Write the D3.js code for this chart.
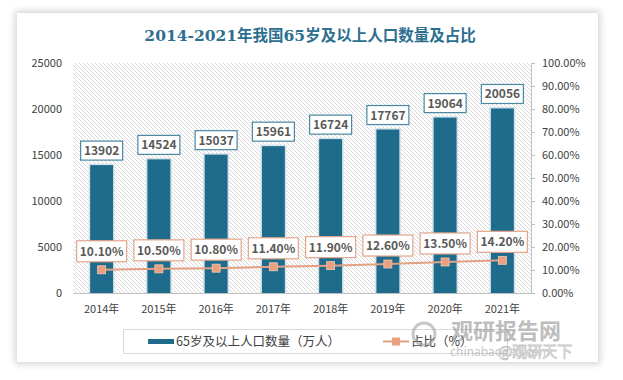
<!DOCTYPE html>
<html><head><meta charset="utf-8">
<script src="https://cdn.jsdelivr.net/npm/d3@7"></script>
<style>
body{margin:0;background:#fff;}
#card{position:absolute;left:17px;top:13px;width:581px;height:349px;background:#fff;box-shadow:0 0 7px 2px rgba(0,0,0,0.18);}
svg{position:absolute;left:0;top:0;}
</style></head>
<body><div id="card"></div><svg id="chart" width="623" height="380"></svg>
<script>
const categories = ["2014年","2015年","2016年","2017年","2018年","2019年","2020年","2021年"];
const population = [13902,14524,15037,15961,16724,17767,19064,20056];
const share = [0.101,0.105,0.108,0.114,0.119,0.126,0.135,0.142];
const leftTicks = [0,5000,10000,15000,20000,25000];
const rightTicks = [0,0.1,0.2,0.3,0.4,0.5,0.6,0.7,0.8,0.9,1.0];
const title = "2014-2021年我国65岁及以上人口数量及占比";
const legendBar = "65岁及以上人口数量（万人）";
const legendLine = "占比（%）";

const svg = d3.select("#chart");
const L = 73, R = 531, T = 63, B = 293;
const font = "'Noto Sans CJK SC','Open Sans',sans-serif";

const defs = svg.append("defs");
const pat = defs.append("pattern").attr("id","hatch").attr("patternUnits","userSpaceOnUse").attr("width",4).attr("height",4);
pat.append("rect").attr("width",4).attr("height",4).attr("fill","#fff");
pat.append("path").attr("d","M0,0 L4,4 M-1,3 L1,5 M3,-1 L5,1").attr("stroke","#d4d4d4").attr("stroke-width",0.9);

svg.append("rect").attr("x",L).attr("y",T).attr("width",R-L).attr("height",B-T).attr("fill","url(#hatch)");

const x = d3.scaleBand().domain(categories).range([L,R]).paddingInner(0.6).paddingOuter(0.3);
const yL = d3.scaleLinear().domain([0,25000]).range([B,T]);
const yR = d3.scaleLinear().domain([0,1]).range([B,T]);

// title
svg.append("text").attr("x",310).attr("y",41).attr("text-anchor","middle")
  .attr("font-family","'DejaVu Serif','Noto Sans CJK SC',serif").attr("font-weight","bold")
  .attr("font-size",15.5).attr("fill","#2d6f8f").text(title);

// left axis
const gl = svg.append("g").attr("transform",`translate(${L},0)`)
  .call(d3.axisLeft(yL).tickValues(leftTicks).tickSize(0).tickPadding(11).tickFormat(d3.format("d")));
gl.select(".domain").remove();
gl.selectAll("text").attr("font-family",font).attr("font-size",11).attr("fill","#404040");

// right axis
const gr = svg.append("g").attr("transform",`translate(${R},0)`)
  .call(d3.axisRight(yR).tickValues(rightTicks).tickSize(4).tickPadding(7).tickFormat(d3.format(".2%")));
gr.select(".domain").attr("stroke","#bfbfbf");
gr.selectAll(".tick line").attr("stroke","#bfbfbf");
gr.selectAll("text").attr("font-family",font).attr("font-size",11).attr("fill","#404040");

// bottom axis
const gb = svg.append("g").attr("transform",`translate(0,${B})`)
  .call(d3.axisBottom(x).tickSize(0).tickPadding(12));
gb.select(".domain").attr("stroke","#bfbfbf");
gb.selectAll("text").attr("font-family",font).attr("font-size",11).attr("fill","#404040");

// bars
const bars = svg.append("g");
bars.selectAll("rect.sh").data(population).join("rect")
  .attr("x",(d,i)=>x(categories[i])-1.5).attr("y",d=>yL(d)-1.5)
  .attr("width",x.bandwidth()+3).attr("height",d=>B-yL(d)+1.5).attr("fill","#d3e2ea");
bars.selectAll("rect.b").data(population).join("rect")
  .attr("x",(d,i)=>x(categories[i])).attr("y",d=>yL(d))
  .attr("width",x.bandwidth()).attr("height",d=>B-yL(d)).attr("fill","#1f6b8c");

// bar labels
const bl = svg.append("g").selectAll("g").data(population).join("g")
  .attr("transform",(d,i)=>`translate(${x(categories[i])+x.bandwidth()/2},${yL(d)-5})`);
bl.append("rect").attr("x",-21).attr("y",-19).attr("width",42).attr("height",19)
  .attr("fill","#fff").attr("stroke","#4a88a3").attr("stroke-width",1.2);
bl.append("text").attr("y",-5).attr("text-anchor","middle").attr("font-family",font)
  .attr("font-weight","bold").attr("font-size",12).attr("fill","#595959").text(d=>d);

// line
const cx = (i)=>x(categories[i])+x.bandwidth()/2;
const line = d3.line().x((d,i)=>cx(i)).y(d=>yR(d));
svg.append("path").datum(share).attr("d",line).attr("fill","none").attr("stroke","#e3a184").attr("stroke-width",2);
svg.append("g").selectAll("rect").data(share).join("rect")
  .attr("x",(d,i)=>cx(i)-4).attr("y",d=>yR(d)-4).attr("width",8).attr("height",8)
  .attr("fill","#e8a07f").attr("stroke","#f3c9b5").attr("stroke-width",0.8);

// percent labels
const pl = svg.append("g").selectAll("g").data(share).join("g")
  .attr("transform",(d,i)=>`translate(${cx(i)},${yR(d)-8})`);
pl.append("rect").attr("x",-25).attr("y",-21).attr("width",50).attr("height",21)
  .attr("fill","#fff").attr("stroke","#e3a68b").attr("stroke-width",1.2);
pl.append("text").attr("y",-6).attr("text-anchor","middle").attr("font-family",font)
  .attr("font-weight","bold").attr("font-size",12).attr("fill","#595959").text(d=>d3.format(".2%")(d));

// legend
const lg = svg.append("g");
lg.append("rect").attr("x",123.5).attr("y",329.5).attr("width",384).attr("height",24)
  .attr("fill","#fff").attr("stroke","#d9d9d9");
lg.append("rect").attr("x",148).attr("y",339).attr("width",26).attr("height",5).attr("fill","#1f6b8c");
lg.append("text").attr("x",176).attr("y",346).attr("font-family",font).attr("font-size",12.5)
  .attr("fill","#404040").text(legendBar);
lg.append("line").attr("x1",383).attr("x2",409).attr("y1",341.5).attr("y2",341.5).attr("stroke","#e3a184").attr("stroke-width",2);
lg.append("rect").attr("x",392).attr("y",337.5).attr("width",8).attr("height",8).attr("fill","#e8a07f");
lg.append("text").attr("x",411).attr("y",346).attr("font-family",font).attr("font-size",12.5)
  .attr("fill","#404040").text(legendLine);

// watermark
const wm = svg.append("g").attr("opacity",0.55);
wm.append("circle").attr("cx",424).attr("cy",334).attr("r",11).attr("fill","none").attr("stroke","#999").attr("stroke-width",3);
wm.append("text").attr("x",451).attr("y",339).attr("font-family",font).attr("font-weight","bold")
  .attr("font-size",22).attr("fill","#888").text("观研报告网");
wm.append("text").attr("x",450).attr("y",356).attr("font-family",font)
  .attr("font-size",12).attr("fill","#999").text("chinabaogao.com");
wm.append("text").attr("x",498).attr("y",357).attr("font-family",font)
  .attr("font-size",15).attr("fill","#fff").attr("stroke","#999").attr("stroke-width",0.8).text("@观研天下");
</script></body></html>
